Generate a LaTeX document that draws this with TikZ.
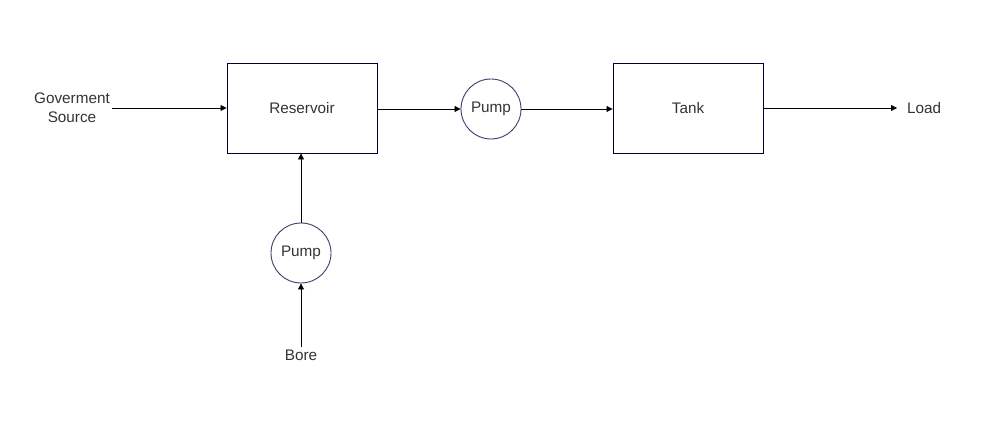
\documentclass[tikz,border=0pt]{standalone}
\usepackage{fontspec}
\setmainfont{Liberation Sans}
\usepackage{xcolor}
\usetikzlibrary{arrows.meta, positioning}
\definecolor{boxline}{HTML}{000033}
\definecolor{pumpline}{HTML}{3C3C6E}
\definecolor{txt}{HTML}{333333}

\begin{document}
\begin{tikzpicture}[
      x=1pt, y=-1pt,
      font=\fontsize{15.3}{19}\selectfont, text=txt,
      unit/.style={draw=boxline, line width=0.9pt, minimum width=150pt,
                   minimum height=90pt, inner sep=0pt},
      pump/.style={circle, draw=pumpline, line width=0.9pt, minimum size=60pt,
                   inner sep=0pt},
      lbl/.style={align=center, inner sep=2pt},
      arr/.style={-{Triangle[length=6pt,width=6pt]}, line width=0.8pt}
    ]
    \useasboundingbox (0,0) rectangle (1000,427);
    \node[unit] (res)   at (302,108) {Reservoir};
    \node[pump] (pumpa) at (491,109) {Pump};
    \node[unit] (tank)  at (688,108) {Tank};
    \node[pump] (pumpb) at (301,253) {Pump};
    \node[lbl]  (gov)   at (72,108)  {Goverment\\Source};
    \node[lbl, anchor=west, inner xsep=10pt] (load) at (897,108) {Load};
    \node[lbl]  (bore)  at (301,355) {Bore};

    \draw[arr] (gov.east)  -- (gov.east -| res.west);
    \draw[arr] (res.east |- pumpa) -- (pumpa.west);
    \draw[arr] (pumpa)     -- (pumpa -| tank.west);
    \draw[arr] (tank.east) -- (load.west);
    \draw[arr] (bore)      -- (pumpb);
    \draw[arr] (pumpb)     -- (pumpb |- res.south);
  \end{tikzpicture}
\end{document}
